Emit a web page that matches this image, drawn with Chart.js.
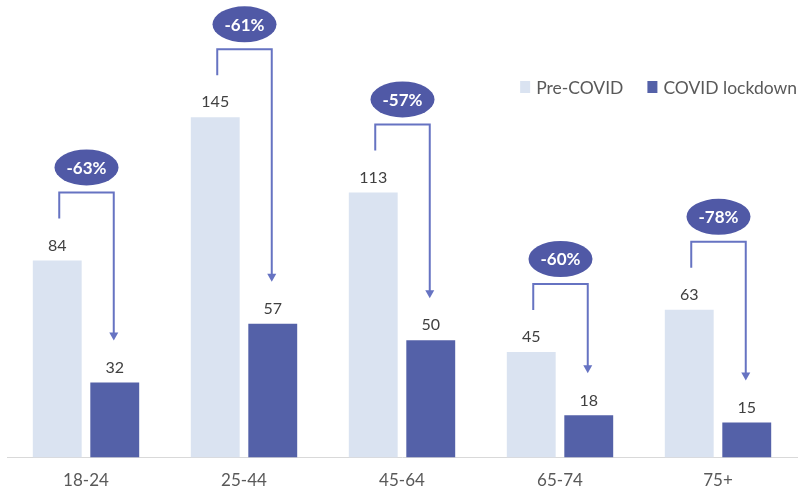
<!DOCTYPE html>
<html>
<head>
<meta charset="utf-8">
<script src="https://cdn.jsdelivr.net/npm/chart.js@4/dist/chart.umd.min.js"></script>
<style>
  html, body { margin: 0; padding: 0; background: #ffffff; }
  #wrap { width: 798px; height: 494px; position: relative; }
</style>
</head>
<body>
<div id="wrap"><canvas id="c" width="798" height="494"></canvas></div>
<script>
const categories = ['18-24', '25-44', '45-64', '65-74', '75+'];
const preCovid = [84, 145, 113, 45, 63];
const lockdown = [32, 57, 50, 18, 15];
const changeLabels = ['-63%', '-61%', '-57%', '-60%', '-78%'];
const seriesNames = ['Pre-COVID', 'COVID lockdown'];

const LIGHT = '#DAE3F1';
const DARK = '#5461A8';
const BRACKET = '#6673C2';
const BUBBLE = '#5059A6';
const FONT = 'Lato, "Open Sans", sans-serif';

const overlay = {
  id: 'overlay',
  afterDatasetsDraw(chart) {
    const ctx = chart.ctx;
    const m0 = chart.getDatasetMeta(0).data;
    const m1 = chart.getDatasetMeta(1).data;
    ctx.save();
    // value labels
    ctx.font = '16px ' + FONT;
    ctx.fillStyle = '#404040';
    ctx.textAlign = 'center';
    ctx.textBaseline = 'middle';
    m0.forEach((b, i) => ctx.fillText(String(preCovid[i]), b.x, b.y - 15));
    m1.forEach((b, i) => ctx.fillText(String(lockdown[i]), b.x, b.y - 15));

    // brackets + bubbles
    for (let i = 0; i < categories.length; i++) {
      const p = m0[i], q = m1[i];
      const lx = p.x + 2, rx = q.x - 1;
      const by = p.y - 42, ty = p.y - 68, tip = q.y - 42;
      ctx.strokeStyle = BRACKET;
      ctx.lineWidth = 2;
      ctx.beginPath();
      ctx.moveTo(lx, by);
      ctx.lineTo(lx, ty);
      ctx.lineTo(rx, ty);
      ctx.lineTo(rx, tip - 6);
      ctx.stroke();
      ctx.fillStyle = BRACKET;
      ctx.beginPath();
      ctx.moveTo(rx - 4.5, tip - 8);
      ctx.lineTo(rx + 4.5, tip - 8);
      ctx.lineTo(rx, tip);
      ctx.closePath();
      ctx.fill();

      const cx = (lx + rx) / 2, cy = p.y - 93;
      ctx.fillStyle = BUBBLE;
      ctx.beginPath();
      ctx.ellipse(cx, cy, 32, 18, 0, 0, Math.PI * 2);
      ctx.fill();
      ctx.fillStyle = '#ffffff';
      ctx.font = 'bold 17px ' + FONT;
      ctx.fillText(changeLabels[i], cx, cy + 1);
    }

    // legend
    ctx.font = '17.5px ' + FONT;
    ctx.textAlign = 'left';
    const ly = 87;
    const right = chart.chartArea.right;
    const w2 = ctx.measureText(seriesNames[1]).width;
    const w1 = ctx.measureText(seriesNames[0]).width;
    const t2 = right - w2;
    const b2 = t2 - 16;
    const t1 = b2 - 24 - w1;
    const b1 = t1 - 16;
    ctx.fillStyle = LIGHT;
    ctx.fillRect(b1, ly - 6, 10, 12);
    ctx.fillStyle = DARK;
    ctx.fillRect(b2, ly - 6, 10, 12);
    ctx.fillStyle = '#595959';
    ctx.fillText(seriesNames[0], t1, ly + 1);
    ctx.fillText(seriesNames[1], t2, ly + 1);
    ctx.restore();
  }
};

new Chart(document.getElementById('c'), {
  type: 'bar',
  data: {
    labels: categories,
    datasets: [
      { label: seriesNames[0], data: preCovid, backgroundColor: LIGHT, categoryPercentage: 0.728, barPercentage: 0.85 },
      { label: seriesNames[1], data: lockdown, backgroundColor: DARK, categoryPercentage: 0.728, barPercentage: 0.85 }
    ]
  },
  options: {
    responsive: false,
    animation: false,
    devicePixelRatio: 1,
    layout: { padding: { left: 7, right: 1, top: 0, bottom: -10 } },
    plugins: { legend: { display: false }, tooltip: { enabled: false } },
    scales: {
      x: {
        grid: { display: false, drawTicks: false, tickLength: 0 },
        border: { display: true, color: '#D9D9D9', width: 1 },
        ticks: { color: '#595959', font: { family: FONT, size: 17 }, padding: 13 }
      },
      y: {
        display: false,
        min: 0,
        max: 195
      }
    }
  },
  plugins: [overlay]
});
</script>
</body>
</html>
